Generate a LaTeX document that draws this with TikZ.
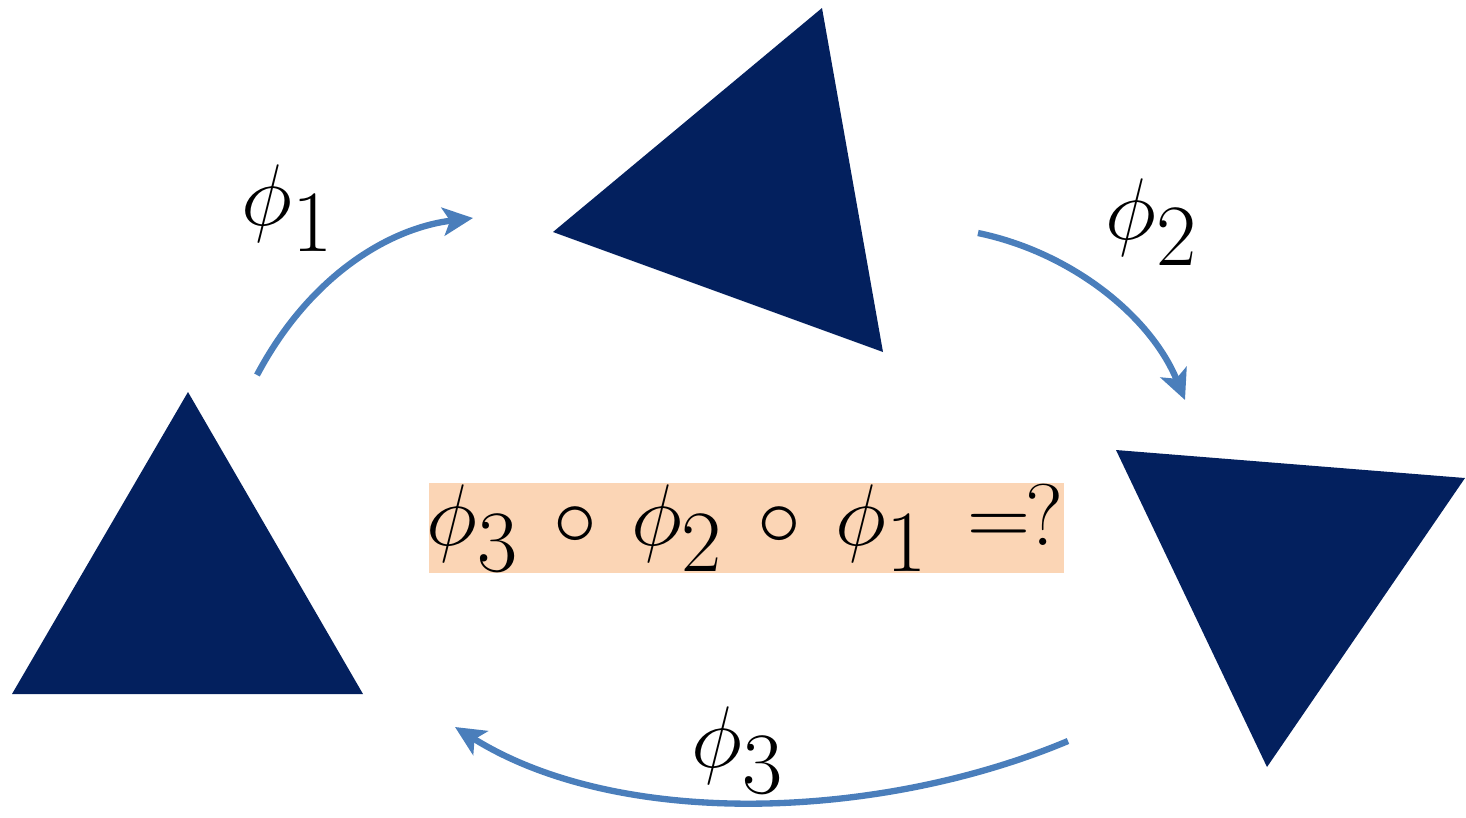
\documentclass[tikz,border=0pt]{standalone}
\usetikzlibrary{arrows.meta}
\DeclareMathSizes{30}{30}{23}{18}
\definecolor{navy}{HTML}{03205E}
\definecolor{arrowblue}{HTML}{4A7EBB}
\definecolor{peach}{HTML}{FBD5B5}
\tikzset{
  tri/.style={fill=navy, draw=none},
  maparrow/.style={draw=arrowblue, line width=1.8pt, -{Stealth[length=0.3cm, width=0.28cm, inset=0.07cm]}},
  maplabel/.style={font=\fontsize{30}{36}\selectfont, inner sep=0pt},
  resultbox/.style={fill=peach, inner sep=0pt, minimum width=6.35cm, minimum height=0.9cm, font=\fontsize{30}{36}\selectfont}
}
\begin{document}
\begin{tikzpicture}[x=0.01cm,y=-0.01cm]
\useasboundingbox (0,0) rectangle (1466,817);
% triangles
\fill[tri] (188,392) -- (12,694) -- (363,694) -- cycle;
\fill[tri] (553,232) -- (822,8) -- (883,352) -- cycle;
\fill[tri] (1116,450) -- (1465,478) -- (1267,767) -- cycle;
% arrow endpoints
\coordinate (a1s) at (257,375);
\coordinate (a1e) at (473,218);
\coordinate (a2s) at (978,233);
\coordinate (a2e) at (1185,400);
\coordinate (a3s) at (1068,741);
\coordinate (a3e) at (455,727);
\draw[maparrow] (a1s) .. controls (310,275) and (390,228) .. (a1e);
\draw[maparrow] (a2s) .. controls (1070,252) and (1150,315) .. (a2e);
\draw[maparrow] (a3s) .. controls (880,820) and (620,830) .. (a3e);
% labels
\node[maplabel] (l1) at (288,208) {$\phi_1$};
\node[maplabel] (l2) at (1152,222) {$\phi_2$};
\node[maplabel] (l3) at (738,750) {$\phi_3$};
\node[resultbox] (res) at (746.5,528) {};
\node[inner sep=0pt, font=\fontsize{30}{36}\selectfont] (restext) at (745,528) {$\phi_3\mskip3mu\circ\mskip3mu\phi_2\mskip3mu\circ\mskip3mu\phi_1\mskip3mu=\mskip-1mu?$};
\end{tikzpicture}
\end{document}
